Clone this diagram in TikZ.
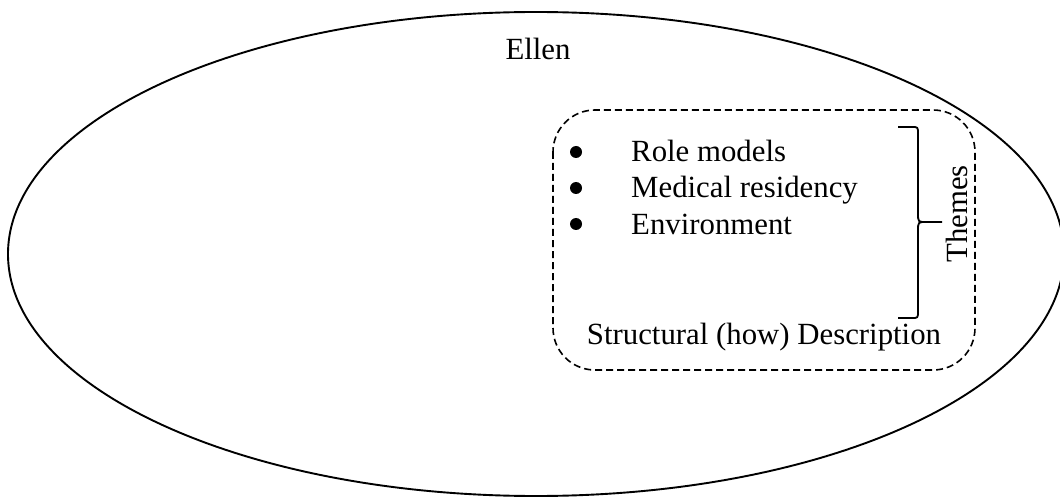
\documentclass[tikz,border=0pt]{standalone}
\usepackage{fontspec}
\setmainfont{Liberation Serif}
\begin{document}
\begin{tikzpicture}[x=1pt,y=-1pt,
  lbl/.style={font=\fontsize{30.8}{36}\selectfont, inner sep=0pt},
  bulletdot/.style={circle, fill=black, inner sep=0pt, minimum size=12pt},
  outline/.style={draw=black, line width=1.9pt},
  dashbox/.style={draw=black, line width=1.6pt, dash pattern=on 7pt off 4pt, rounded corners=42pt},
  bracestroke/.style={draw=black, line width=1.8pt, line join=round}]
\useasboundingbox (0,0) rectangle (1060,497);
\fill[white] (0,0) rectangle (1060,497);

% outer ellipse
\draw[outline] (536,254) ellipse [x radius=528, y radius=242];
\node[lbl, anchor=base] (ellen) at (538,60) {Ellen};

% dashed box with the theme list
\draw[dashbox] (553,110) rectangle (975,370);
\node[bulletdot] (b1) at (576,152) {};
\node[bulletdot] (b2) at (576,188) {};
\node[bulletdot] (b3) at (576,224) {};
\node[lbl, anchor=base west] (t1) at (631,162) {Role models};
\node[lbl, anchor=base west] (t2) at (631,198) {Medical residency};
\node[lbl, anchor=base west] (t3) at (631,234) {Environment};
\node[lbl, anchor=base] (desc) at (764,344) {Structural (how) Description};

% brace grouping the themes
\coordinate (btop) at (898,127);
\coordinate (bbot) at (898,318);
\coordinate (btip) at (942,222);
\draw[bracestroke] (btop) -- (912,127) .. controls (918,127) .. (918,134)
  -- (918,213) .. controls (918,222) .. (926,222) -- (btip);
\draw[bracestroke] (bbot) -- (912,318) .. controls (918,318) .. (918,311)
  -- (918,231) .. controls (918,222) .. (926,222);
\node[lbl, rotate=90] (themes) at (957,214) {Themes};
\end{tikzpicture}
\end{document}
